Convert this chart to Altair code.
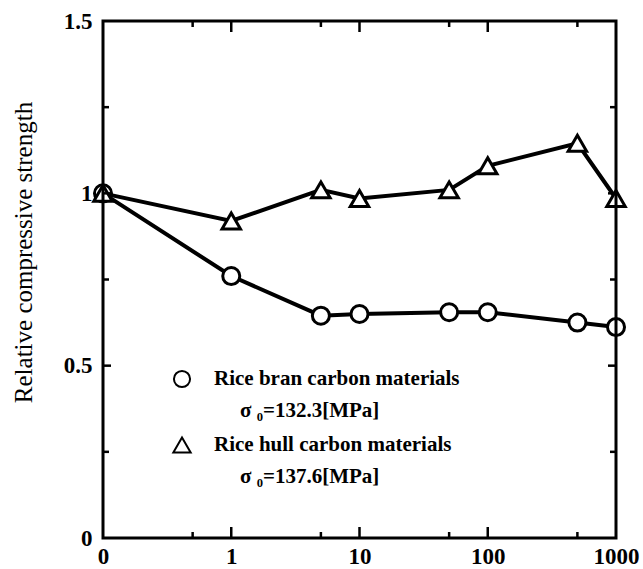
import altair as alt
import pandas as pd

# ---- data ----
hours = [0, 1, 5, 10, 50, 100, 500, 1000]
rice_bran = [1.00, 0.76, 0.645, 0.65, 0.655, 0.655, 0.625, 0.612]
rice_hull = [1.00, 0.92, 1.01, 0.985, 1.01, 1.08, 1.145, 0.985]
series_names = ["Rice bran carbon materials", "Rice hull carbon materials"]
sigma_labels = ["σ ₀=132.3[MPa]", "σ ₀=137.6[MPa]"]
y_title = "Relative compressive strength"
x_label_values = [0, 1, 10, 100, 1000]
x_major = [1, 10, 100]
x_minor = [0.5, 5, 50, 500]
y_label_values = [0, 0.5, 1, 1.5]
y_major = [0.5, 1.0]
y_minor = [0.25, 0.75, 1.25]

W, H = 513, 517
FONT = "Liberation Serif"
POS = "datum.x == 0 ? -1 : log(datum.x) / LN10"

df = pd.DataFrame({
    "x": hours * 2,
    "value": rice_bran + rice_hull,
    "series": [series_names[0]] * len(hours) + [series_names[1]] * len(hours),
})

x_scale = alt.Scale(domain=[-1, 3], nice=False, zero=False)
y_scale = alt.Scale(domain=[0, 1.5], nice=False, zero=False)

x_axis = alt.Axis(
    values=[-1, 0, 1, 2, 3],
    labelExpr="datum.value == -1 ? '0' : format(pow(10, datum.value), 'd')",
    title=None, domain=False, ticks=False, tickSize=0, grid=False,
    labelFont=FONT, labelFontSize=23, labelFontWeight="bold", labelColor="black",
    labelPadding=7, labelFlush=False,
)
y_axis = alt.Axis(
    values=y_label_values, format="~g",
    title=y_title, titleFont=FONT, titleFontSize=25, titleFontWeight="normal",
    titleColor="black", titleX=-80, titleY=231, titleBaseline="middle",
    domain=False, ticks=False, tickSize=0, grid=False,
    labelFont=FONT, labelFontSize=23, labelFontWeight="bold", labelColor="black",
    labelPadding=11,
)

X = alt.X("pos:Q", scale=x_scale, axis=x_axis)
Y = alt.Y("value:Q", scale=y_scale, axis=y_axis)

base = alt.Chart(df).transform_calculate(pos=POS)

lines = base.mark_line(color="black", strokeWidth=4).encode(x=X, y=Y, detail="series:N")

points = base.mark_point(filled=True, fill="white", stroke="black", strokeWidth=3, opacity=1).encode(
    x=X, y=Y,
    shape=alt.Shape("series:N", scale=alt.Scale(domain=series_names, range=["circle", "triangle-up"]), legend=None),
    size=alt.Size("series:N", scale=alt.Scale(domain=series_names, range=[290, 340]), legend=None),
)

# ---- inward ticks ----
def xticks(vals, length):
    d = alt.Chart(pd.DataFrame({"x": vals})).transform_calculate(pos=POS)
    bottom = d.mark_rule(color="black", strokeWidth=2.5).encode(
        x=X, y=alt.value(H), y2=alt.value(H - length))
    top = d.mark_rule(color="black", strokeWidth=2.5).encode(
        x=X, y=alt.value(0), y2=alt.value(length))
    return [bottom, top]

def yticks(vals, length):
    d = alt.Chart(pd.DataFrame({"value": vals}))
    left = d.mark_rule(color="black", strokeWidth=2.5).encode(
        y=Y, x=alt.value(0), x2=alt.value(length))
    right = d.mark_rule(color="black", strokeWidth=2.5).encode(
        y=Y, x=alt.value(W), x2=alt.value(W - length))
    return [left, right]

ticks = xticks(x_major, 11) + xticks(x_minor, 6) + yticks(y_major, 8) + yticks(y_minor, 6)

frame = alt.Chart(pd.DataFrame({"a": [0]})).mark_rect(
    fill="transparent", stroke="black", strokeWidth=3).encode(
    x=alt.value(0), x2=alt.value(W), y=alt.value(0), y2=alt.value(H))

# ---- manual legend ----
one = pd.DataFrame({"a": [0]})
sym_x, name_x, sig_x = 79, 111, 137
rows_y = [358, 390, 424, 456]

def legend_symbol(shape, yy, size):
    return alt.Chart(one).mark_point(shape=shape, size=size, filled=True, fill="white",
                                     stroke="black", strokeWidth=2, opacity=1).encode(
        x=alt.value(sym_x), y=alt.value(yy))

def legend_text(txt, xx, yy):
    return alt.Chart(one).mark_text(text=txt, font=FONT, fontSize=21, fontWeight="bold",
                                    align="left", baseline="middle", color="black").encode(
        x=alt.value(xx), y=alt.value(yy))

legend = [
    legend_symbol("circle", rows_y[0], 260),
    legend_text(series_names[0], name_x, rows_y[0]),
    legend_text(sigma_labels[0], sig_x, rows_y[1]),
    legend_symbol("triangle-up", rows_y[2], 300),
    legend_text(series_names[1], name_x, rows_y[2]),
    legend_text(sigma_labels[1], sig_x, rows_y[3]),
]

chart = alt.layer(lines, points, *ticks, frame, *legend).properties(
    width=W, height=H,
    autosize=alt.AutoSizeParams(type="none"),
    padding={"left": 103, "top": 21, "right": 27, "bottom": 31},
    background="white",
).configure_view(stroke=None)

chart.save("out.html", embed_options={"renderer": "svg", "actions": False})
